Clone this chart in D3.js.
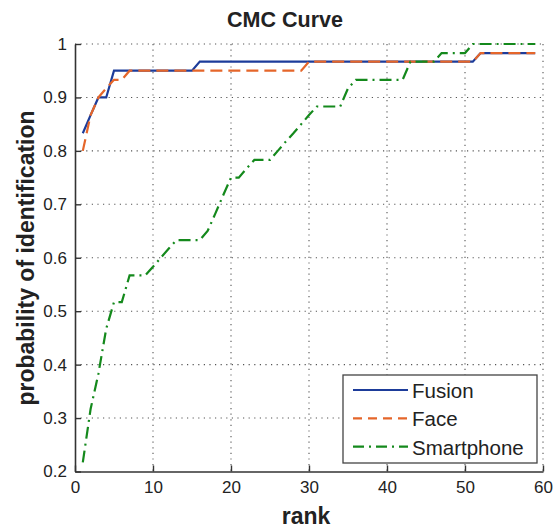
<!DOCTYPE html>
<html>
<head>
<meta charset="utf-8">
<script src="https://cdn.jsdelivr.net/npm/d3@7"></script>
<style>
  body { margin: 0; background: #fff; }
  text { font-family: 'Liberation Sans', Arial, Helvetica, sans-serif; fill: #222; }
</style>
</head>
<body>
<div id="chart"></div>
<script>
// rank axis (1..59 probes)
const ranks = [1, 2, 3, 4, 5, 6, 7, 8, 9, 10, 11, 12, 13, 14, 15, 16, 17, 18, 19, 20,
  21, 22, 23, 24, 25, 26, 27, 28, 29, 30, 31, 32, 33, 34, 35, 36, 37, 38, 39, 40,
  41, 42, 43, 44, 45, 46, 47, 48, 49, 50, 51, 52, 53, 54, 55, 56, 57, 58, 59]

const fusion = [0.833, 0.867, 0.9, 0.9, 0.95, 0.95, 0.95, 0.95, 0.95, 0.95,
  0.95, 0.95, 0.95, 0.95, 0.95, 0.967, 0.967, 0.967, 0.967, 0.967,
  0.967, 0.967, 0.967, 0.967, 0.967, 0.967, 0.967, 0.967, 0.967, 0.967,
  0.967, 0.967, 0.967, 0.967, 0.967, 0.967, 0.967, 0.967, 0.967, 0.967,
  0.967, 0.967, 0.967, 0.967, 0.967, 0.967, 0.967, 0.967, 0.967, 0.967,
  0.967, 0.983, 0.983, 0.983, 0.983, 0.983, 0.983, 0.983, 0.983]

const face = [0.8, 0.867, 0.9, 0.917, 0.933, 0.933, 0.95, 0.95, 0.95, 0.95,
  0.95, 0.95, 0.95, 0.95, 0.95, 0.95, 0.95, 0.95, 0.95, 0.95,
  0.95, 0.95, 0.95, 0.95, 0.95, 0.95, 0.95, 0.95, 0.95, 0.967,
  0.967, 0.967, 0.967, 0.967, 0.967, 0.967, 0.967, 0.967, 0.967, 0.967,
  0.967, 0.967, 0.967, 0.967, 0.967, 0.967, 0.967, 0.967, 0.967, 0.967,
  0.967, 0.983, 0.983, 0.983, 0.983, 0.983, 0.983, 0.983, 0.983]

const smartphone = [0.217, 0.317, 0.383, 0.467, 0.517, 0.517, 0.567, 0.567, 0.567, 0.583,
  0.6, 0.617, 0.633, 0.633, 0.633, 0.633, 0.65, 0.683, 0.717, 0.75,
  0.75, 0.767, 0.783, 0.783, 0.783, 0.8, 0.817, 0.833, 0.85, 0.867,
  0.883, 0.883, 0.883, 0.883, 0.917, 0.933, 0.933, 0.933, 0.933, 0.933,
  0.933, 0.933, 0.967, 0.967, 0.967, 0.967, 0.983, 0.983, 0.983, 0.983,
  1, 1, 1, 1, 1, 1, 1, 1, 1]

const xTicks = [0, 10, 20, 30, 40, 50, 60]
const yTicks = [0.2, 0.3, 0.4, 0.5, 0.6, 0.7, 0.8, 0.9, 1]
const seriesNames = ['Fusion', 'Face', 'Smartphone']

const dimensions = {
  width: 558,
  height: 528,
  margin: { top: 44, right: 15, bottom: 56.5, left: 75 }
}

const styles = {
  Fusion: { color: '#1d3c9a', dash: null, legendDash: null },
  Face: { color: '#e5662a', dash: '12,6', legendDash: '9,6' },
  Smartphone: { color: '#14891c', dash: '12,5,2,5', legendDash: '11,5,2,5' }
}

const svg = d3.select('#chart').append('svg')
  .attr('width', dimensions.width)
  .attr('height', dimensions.height)

const innerW = dimensions.width - dimensions.margin.left - dimensions.margin.right
const innerH = dimensions.height - dimensions.margin.top - dimensions.margin.bottom

const xScale = d3.scaleLinear().domain([0, 60]).range([0, innerW])
const yScale = d3.scaleLinear().domain([0.2, 1]).range([innerH, 0])

const bounds = svg.append('g')
  .attr('transform', `translate(${dimensions.margin.left}, ${dimensions.margin.top})`)

// dotted grid
const grid = bounds.append('g')
  .attr('stroke', '#555')
  .attr('stroke-width', 1.1)
  .attr('stroke-dasharray', '1.2,4.4')
grid.selectAll('.vgrid')
  .data(xTicks.filter(d => d > 0))
  .join('line')
  .attr('x1', d => xScale(d))
  .attr('x2', d => xScale(d))
  .attr('y1', 0)
  .attr('y2', innerH)
grid.selectAll('.hgrid')
  .data(yTicks.filter(d => d > 0.2))
  .join('line')
  .attr('x1', 0)
  .attr('x2', innerW)
  .attr('y1', d => yScale(d))
  .attr('y2', d => yScale(d))

// axes (left + bottom only, ticks pointing in)
const xAxis = d3.axisBottom(xScale).tickValues(xTicks).tickSizeInner(-6).tickSizeOuter(0).tickPadding(9)
const yAxis = d3.axisLeft(yScale).tickValues(yTicks).tickSizeInner(-6).tickSizeOuter(0).tickPadding(8)
  .tickFormat(d => d === 1 ? '1' : d3.format('.1f')(d))

const xAxisContainer = bounds.append('g')
  .attr('transform', `translate(0, ${innerH})`)
  .call(xAxis)
const yAxisContainer = bounds.append('g')
  .call(yAxis)

;[xAxisContainer, yAxisContainer].forEach(ax => {
  ax.select('.domain').attr('stroke', '#333').attr('stroke-width', 1.6)
  ax.selectAll('.tick line').attr('stroke', '#333').attr('stroke-width', 1.4)
  ax.selectAll('.tick text')
    .attr('font-size', 17)
    .attr('fill', '#222')
    .attr('font-family', "'Liberation Sans', Arial, sans-serif")
})

// data lines
const line = d3.line()
  .x(d => xScale(d[0]))
  .y(d => yScale(d[1]))

const seriesData = {
  Fusion: fusion,
  Face: face,
  Smartphone: smartphone
}

bounds.selectAll('.series')
  .data(seriesNames)
  .join('path')
  .attr('fill', 'none')
  .attr('stroke', d => styles[d].color)
  .attr('stroke-width', 2.2)
  .attr('stroke-dasharray', d => styles[d].dash)
  .attr('d', d => line(d3.zip(ranks, seriesData[d])))

// title + labels
svg.append('text')
  .attr('x', 285)
  .attr('y', 27)
  .attr('text-anchor', 'middle')
  .attr('font-size', 21.5)
  .attr('font-weight', 'bold')
  .attr('fill', '#111')
  .text('CMC Curve')

svg.append('text')
  .attr('x', 306)
  .attr('y', 524)
  .attr('text-anchor', 'middle')
  .attr('font-size', 23)
  .attr('font-weight', 'bold')
  .attr('fill', '#222')
  .text('rank')

svg.append('text')
  .attr('transform', 'translate(34, 258) rotate(-90)')
  .attr('text-anchor', 'middle')
  .attr('font-size', 23)
  .attr('font-weight', 'bold')
  .attr('fill', '#222')
  .text('probability of identification')

// legend
const legend = svg.append('g')
  .attr('transform', 'translate(343, 375)')
legend.append('rect')
  .attr('width', 194)
  .attr('height', 88)
  .attr('fill', '#fff')
  .attr('stroke', '#444')
  .attr('stroke-width', 1.3)

const rows = legend.selectAll('.row')
  .data(seriesNames)
  .join('g')
  .attr('transform', (d, i) => `translate(0, ${15 + i * 28.3})`)
rows.append('line')
  .attr('x1', 10)
  .attr('x2', 65)
  .attr('stroke', d => styles[d].color)
  .attr('stroke-width', 2.2)
  .attr('stroke-dasharray', d => styles[d].legendDash)
rows.append('text')
  .attr('x', 69)
  .attr('y', 8)
  .attr('font-size', 20.5)
  .attr('fill', '#222')
  .text(d => d)
</script>
</body>
</html>
